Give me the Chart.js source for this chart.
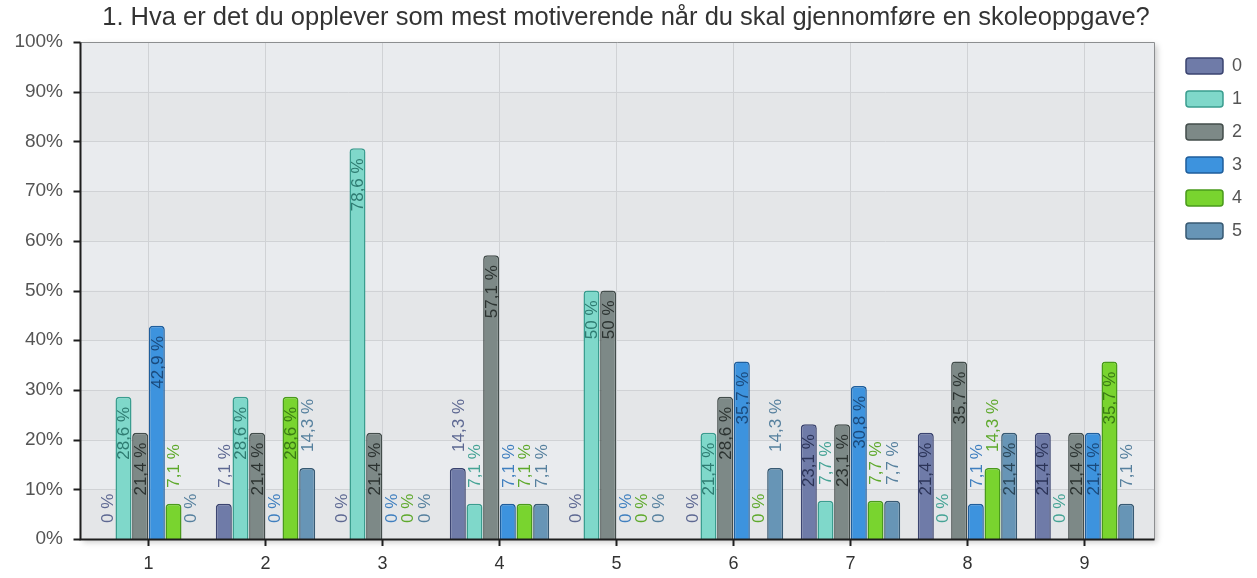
<!DOCTYPE html>
<html>
<head>
<meta charset="utf-8">
<script src="https://cdn.jsdelivr.net/npm/chart.js@4/dist/chart.umd.min.js"></script>
<style>
  html, body { margin: 0; padding: 0; background: #fff; }
  #wrap { width: 1257px; height: 578px; }
</style>
</head>
<body>
<div id="wrap"><canvas id="surveyChart" width="1257" height="578"></canvas></div>
<script>
// Chart data
const titleText = '1. Hva er det du opplever som mest motiverende når du skal gjennomføre en skoleoppgave?';
const categories = ['1', '2', '3', '4', '5', '6', '7', '8', '9'];
const seriesNames = ['0', '1', '2', '3', '4', '5'];
const answers0 = [0, 7.1, 0, 14.3, 0, 0, 23.1, 21.4, 21.4];
const answers1 = [28.6, 28.6, 78.6, 7.1, 50, 21.4, 7.7, 0, 0];
const answers2 = [21.4, 21.4, 21.4, 57.1, 50, 28.6, 23.1, 35.7, 21.4];
const answers3 = [42.9, 0, 0, 7.1, 0, 35.7, 30.8, 7.1, 21.4];
const answers4 = [7.1, 28.6, 0, 7.1, 0, 0, 7.7, 14.3, 35.7];
const answers5 = [0, 14.3, 0, 7.1, 0, 14.3, 7.7, 21.4, 7.1];
const yTicks = [0, 10, 20, 30, 40, 50, 60, 70, 80, 90, 100];

// Colours per series
const fills = ['#6f7ba8', '#7fd8ca', '#7d8987', '#3d93de', '#79d42f', '#6795b6'];
const borders = ['#3b4470', '#3a9d8f', '#434d4b', '#1f5e9c', '#4a9a1c', '#385a73'];
const labelColors = ['#5d6892', '#45a395', '#4d5755', '#3f7fbf', '#5ea92c', '#56809e'];
const insideLabelColors = ['#2c3458', '#2f7c72', '#2c3331', '#1b4a7c', '#3a7a14', '#2a4658'];

const allSeries = [answers0, answers1, answers2, answers3, answers4, answers5];
const fontFamily = '"Liberation Sans", Arial, sans-serif';

// Plot background, bands and grid lines (drawn behind the bars)
const plotFrame = {
    id: 'plotFrame',
    beforeDraw(chart) {
        const { ctx, chartArea } = chart;
        const y = chart.scales.y;
        const L = chartArea.left - 10;
        const R = chartArea.right + 11;
        const T = chartArea.top;
        const B = chartArea.bottom;
        ctx.save();
        // shadow
        ctx.shadowColor = 'rgba(0,0,0,0.22)';
        ctx.shadowBlur = 6;
        ctx.shadowOffsetX = 3;
        ctx.shadowOffsetY = 3;
        ctx.fillStyle = '#e6e8ea';
        ctx.fillRect(L, T, R - L, B - T);
        ctx.shadowColor = 'transparent';
        // alternating bands
        for (let i = 0; i < yTicks.length - 1; i++) {
            const y1 = y.getPixelForValue(yTicks[i + 1]);
            const y0 = y.getPixelForValue(yTicks[i]);
            ctx.fillStyle = (i % 2 === 1) ? '#e9ebee' : '#e4e6e8';
            ctx.fillRect(L, y1, R - L, y0 - y1);
        }
        // horizontal grid lines
        ctx.strokeStyle = '#d0d2d5';
        ctx.lineWidth = 1;
        yTicks.forEach(v => {
            const py = Math.round(y.getPixelForValue(v)) + 0.5;
            ctx.beginPath();
            ctx.moveTo(L, py);
            ctx.lineTo(R, py);
            ctx.stroke();
        });
        ctx.restore();
    },
    afterDatasetsDraw(chart) {
        const { ctx, chartArea } = chart;
        const y = chart.scales.y;
        const L = Math.round(chartArea.left - 10) + 0.5;
        const R = Math.round(chartArea.right + 11) + 0.5;
        const T = Math.round(chartArea.top) + 0.5;
        const B = Math.round(chartArea.bottom) + 0.5;
        ctx.save();
        // top / right frame
        ctx.strokeStyle = '#8c8e90';
        ctx.lineWidth = 1;
        ctx.beginPath();
        ctx.moveTo(L, T);
        ctx.lineTo(R, T);
        ctx.lineTo(R, B);
        ctx.stroke();
        // axes
        ctx.strokeStyle = '#1e1e1e';
        ctx.lineWidth = 2;
        ctx.beginPath();
        ctx.moveTo(L, T);
        ctx.lineTo(L, B);
        ctx.lineTo(R, B);
        ctx.stroke();
        // y tick marks
        yTicks.forEach(v => {
            const py = Math.round(y.getPixelForValue(v)) + 0.5;
            ctx.beginPath();
            ctx.moveTo(L - 7, py);
            ctx.lineTo(L, py);
            ctx.stroke();
        });
        ctx.restore();
    }
};

// Vertical value labels on every bar
const barLabels = {
    id: 'barLabels',
    afterDatasetsDraw(chart) {
        const { ctx } = chart;
        ctx.save();
        ctx.font = '17px ' + fontFamily;
        ctx.textBaseline = 'middle';
        ctx.textAlign = 'left';
        chart.data.datasets.forEach((ds, di) => {
            const meta = chart.getDatasetMeta(di);
            meta.data.forEach((bar, i) => {
                const v = ds.data[i];
                const text = String(v).replace('.', ',') + ' %';
                const w = ctx.measureText(text).width;
                const h = bar.base - bar.y;
                let bottom;
                let inside = h >= w + 28;
                if (inside) {
                    bottom = bar.y + 10 + w;
                } else {
                    bottom = bar.y - 16;
                }
                ctx.save();
                ctx.translate(bar.x + 1, bottom);
                ctx.rotate(-Math.PI / 2);
                ctx.fillStyle = inside ? insideLabelColors[di] : labelColors[di];
                ctx.fillText(text, 0, 0);
                ctx.restore();
            });
        });
        ctx.restore();
    }
};

const datasets = allSeries.map((values, i) => ({
    label: seriesNames[i],
    data: values,
    backgroundColor: fills[i],
    borderColor: borders[i],
    borderWidth: 1.5,
    borderSkipped: 'bottom',
    borderRadius: { topLeft: 4, topRight: 4 },
    categoryPercentage: 0.855,
    barPercentage: 0.96
}));

const ctx = document.getElementById('surveyChart').getContext('2d');
const surveyChart = new Chart(ctx, {
    type: 'bar',
    data: { labels: categories, datasets: datasets },
    options: {
        responsive: false,
        animation: false,
        layout: { padding: { top: 0, right: 5, bottom: 0, left: 0 } },
        plugins: {
            title: {
                display: true,
                text: titleText,
                color: '#333',
                font: { family: fontFamily, size: 25.5, weight: 'normal' },
                padding: { top: 3, bottom: 8.4 }
            },
            legend: {
                position: 'right',
                align: 'start',
                fullSize: false,
                labels: {
                    color: '#555',
                    font: { family: fontFamily, size: 18 },
                    boxWidth: 37,
                    boxHeight: 16,
                    padding: 15,
                    useBorderRadius: true,
                    borderRadius: 3
                }
            },
            tooltip: { enabled: false }
        },
        scales: {
            x: {
                grid: { offset: false, color: '#d0d2d5', tickColor: '#1e1e1e', tickLength: 7, lineWidth: 1, tickWidth: 2 },
                border: { display: false },
                ticks: {
                    color: '#333',
                    padding: 7,
                    font: { family: fontFamily, size: 18 }
                },
                afterFit(scale) { scale.height = 39; }
            },
            y: {
                min: 0,
                max: 100,
                grid: { display: false, drawTicks: false },
                border: { display: false },
                ticks: {
                    stepSize: 10,
                    padding: 27,
                    color: '#555',
                    font: { family: fontFamily, size: 19 },
                    callback: v => v + '%'
                },
                afterFit(scale) { scale.width = 90; }
            },
            y2: {
                position: 'right',
                display: true,
                grid: { display: false, drawTicks: false },
                border: { display: false },
                ticks: { display: false },
                afterFit(scale) { scale.width = 28; }
            }
        }
    },
    plugins: [plotFrame, barLabels]
});
</script>
</body>
</html>
